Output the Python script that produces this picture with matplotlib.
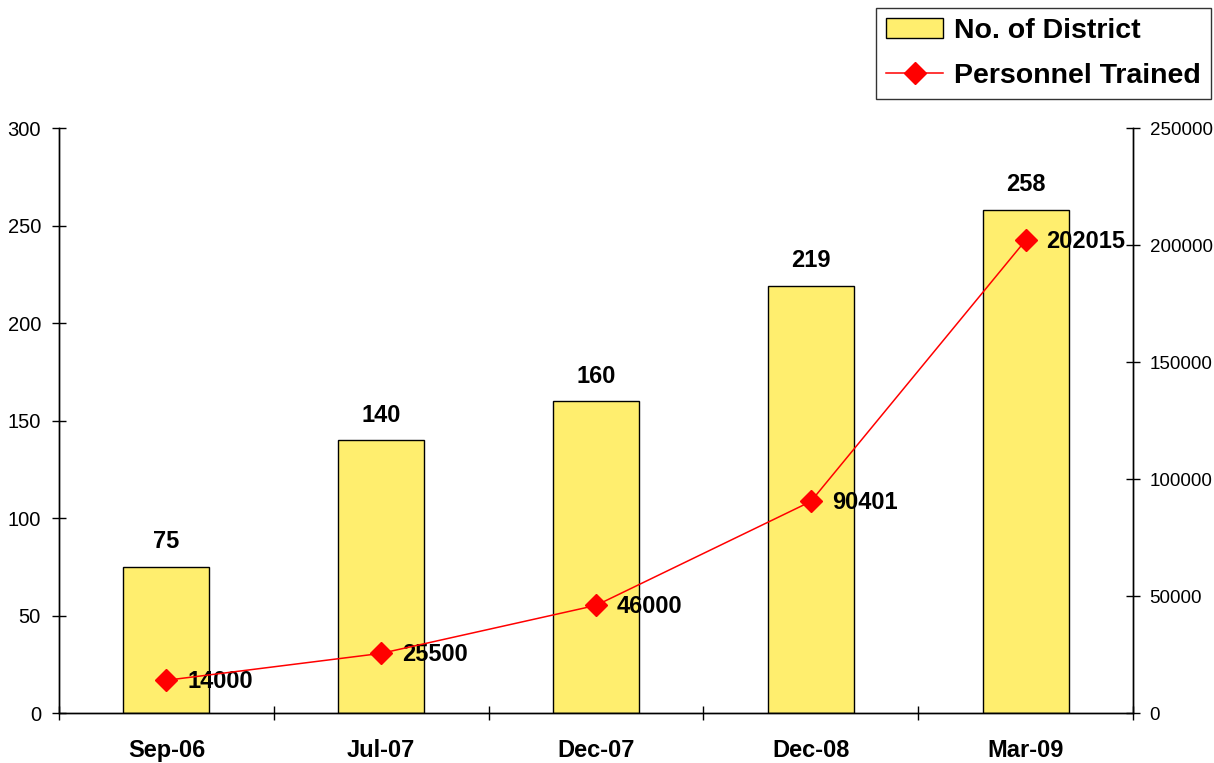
import matplotlib.pyplot as plt
import numpy as np

plt.rcParams['font.family'] = ['Liberation Sans', 'DejaVu Sans']

periods = ['Sep-06', 'Jul-07', 'Dec-07', 'Dec-08', 'Mar-09']
districts = [75, 140, 160, 219, 258]
personnel = [14000, 25500, 46000, 90401, 202015]

fig = plt.figure(figsize=(12.14, 7.63), dpi=100)
ax = fig.add_axes([0.0486, 0.0655, 0.8847, 0.7667])
ax2 = ax.twinx()

x = np.arange(len(periods))
bars = ax.bar(x, districts, width=0.4, color='#FFEE6E', edgecolor='black', linewidth=1, zorder=2,
              label='No. of District')
for xi, v in zip(x, districts):
    ax.annotate(str(v), (xi, v), xytext=(0, 18), textcoords='offset points',
                ha='center', va='center', fontsize=17, fontweight='bold')

ax.set_xlim(-0.5, len(periods) - 0.5)
ax.set_ylim(0, 300)
ax.set_yticks([0, 50, 100, 150, 200, 250, 300])
ax.set_xticks(np.arange(-0.5, len(periods)), minor=False)
ax.set_xticklabels([])
ax.set_xticks(x, minor=True)
ax.set_xticklabels(periods, minor=True, fontsize=17, fontweight='bold')
ax.tick_params(axis='x', which='minor', length=0, pad=19)
ax.tick_params(axis='x', which='major', direction='inout', length=10, width=1)
ax.tick_params(axis='y', direction='inout', length=10, width=1, labelsize=14.5, pad=8)

ax2.set_ylim(0, 250000)
ax2.set_yticks([0, 50000, 100000, 150000, 200000, 250000])
ax2.tick_params(axis='y', direction='inout', length=10, width=1, labelsize=13.5, pad=7)

for a in (ax, ax2):
    a.spines['top'].set_visible(False)
    for s in ('left', 'right', 'bottom'):
        a.spines[s].set_linewidth(1)

line, = ax2.plot(x, personnel, color='red', linewidth=1.1, marker='D', markersize=11, zorder=4)
for xi, v in zip(x, personnel):
    ax2.annotate(str(v), (xi, v), xytext=(15, -1), textcoords='offset points',
                 ha='left', va='center', fontsize=17, fontweight='bold')

leg = fig.legend([bars, line], ['No. of District', 'Personnel Trained'],
                 loc='upper right', bbox_to_anchor=(1.0, 0.993), prop={'size': 20.5, 'weight': 'bold'},
                 frameon=True, fancybox=False, edgecolor='black', handlelength=2.0,
                 borderpad=0.35, labelspacing=0.65, handletextpad=0.4, borderaxespad=0.1)
leg.get_frame().set_linewidth(1)

fig.savefig('out.png', dpi=100)
